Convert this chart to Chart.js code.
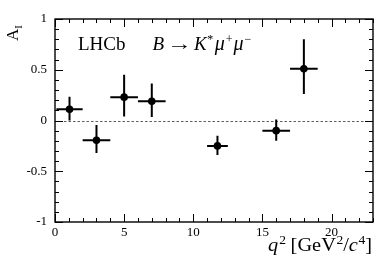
<!DOCTYPE html>
<html><head><meta charset="utf-8">
<script src="https://cdn.jsdelivr.net/npm/chart.js@4"></script>
<style>html,body{margin:0;padding:0;background:#fff}#wrap{width:392px;height:266px;position:relative}</style>
</head><body>
<div id="wrap"><canvas id="c"></canvas></div>
<script>
// ---- data ----
const binCentres = [1.05, 3, 5, 7, 11.75, 16, 18];
const binLow     = [0.1, 2, 4, 6, 11, 15, 17];
const binHigh    = [2, 4, 6, 8, 12.5, 17, 19];
const asymmetry  = [0.11, -0.195, 0.23, 0.19, -0.25, -0.10, 0.51];
const errUp      = [0.125, 0.15, 0.22, 0.175, 0.10, 0.11, 0.29];
const errDown    = [0.11, 0.125, 0.19, 0.155, 0.09, 0.10, 0.25];
const xTickValues = [0, 5, 10, 15, 20];
const xTickLabels = ['0', '5', '10', '15', '20'];
const yTickValues = [-1, -0.5, 0, 0.5, 1];
const yTickLabels = ['-1', '-0.5', '0', '0.5', '1'];

const SERIF = "'Liberation Serif', 'DejaVu Serif', serif";

const rootStyle = {
  id: 'rootStyle',
  beforeDatasetsDraw(chart) {
    const {ctx, chartArea: a, scales: {x, y}} = chart;
    ctx.save();
    ctx.strokeStyle = '#333';
    ctx.lineWidth = 0.8;
    ctx.setLineDash([2.5, 2]);
    const y0 = Math.round(y.getPixelForValue(0)) + 0.5;
    ctx.beginPath(); ctx.moveTo(a.left, y0); ctx.lineTo(a.right, y0); ctx.stroke();
    ctx.setLineDash([]);
    ctx.strokeStyle = '#000';
    ctx.lineWidth = 2;
    for (let i = 0; i < binCentres.length; i++) {
      const px = x.getPixelForValue(binCentres[i]);
      const py = y.getPixelForValue(asymmetry[i]);
      ctx.beginPath();
      ctx.moveTo(x.getPixelForValue(binLow[i]), py);
      ctx.lineTo(x.getPixelForValue(binHigh[i]), py);
      ctx.moveTo(px, y.getPixelForValue(asymmetry[i] + errUp[i]));
      ctx.lineTo(px, y.getPixelForValue(asymmetry[i] - errDown[i]));
      ctx.stroke();
    }
    ctx.restore();
  },
  afterDraw(chart) {
    const {ctx, chartArea: a, scales: {x, y}} = chart;
    ctx.save();
    ctx.strokeStyle = '#000';
    ctx.lineWidth = 1.4;
    ctx.strokeRect(a.left, a.top, a.right - a.left, a.bottom - a.top);
    ctx.lineWidth = 1;
    ctx.beginPath();
    for (let v = 0; v <= 23; v++) {
      const len = v % 5 === 0 ? 8 : 4;
      const px = Math.round(x.getPixelForValue(v)) + 0.5;
      ctx.moveTo(px, a.bottom); ctx.lineTo(px, a.bottom - len);
      ctx.moveTo(px, a.top); ctx.lineTo(px, a.top + len);
    }
    for (let k = -10; k <= 10; k++) {
      const len = k % 5 === 0 ? 8 : 4;
      const py = Math.round(y.getPixelForValue(k / 10)) + 0.5;
      ctx.moveTo(a.left, py); ctx.lineTo(a.left + len, py);
      ctx.moveTo(a.right, py); ctx.lineTo(a.right - len, py);
    }
    ctx.stroke();

    ctx.fillStyle = '#000';
    ctx.textBaseline = 'alphabetic';
    function runs(parts, startX, baseY, scaleAll) {
      const S = scaleAll || 1;
      let cx = startX;
      for (const p of parts) {
        ctx.font = p.f;
        const w = ctx.measureText(p.t).width;
        const sx = (p.w ? p.w / w : 1) * S;
        ctx.save();
        ctx.translate(cx, baseY + (p.dy || 0));
        ctx.scale(sx, 1);
        ctx.fillText(p.t, 0, 0);
        ctx.restore();
        cx += w * sx + (p.gap || 0) * S;
      }
      return cx;
    }
    function width(parts) {
      let w = 0;
      for (const p of parts) { ctx.font = p.f; w += (p.w || ctx.measureText(p.t).width) + (p.gap || 0); }
      return w;
    }
    // x title
    const xt = [
      {t: 'q', f: `italic 18px ${SERIF}`, gap: 1},
      {t: '2', f: `12px ${SERIF}`, dy: -7, gap: 4},
      {t: '[GeV', f: `18px ${SERIF}`, gap: 0.5},
      {t: '2', f: `12px ${SERIF}`, dy: -7},
      {t: '/', f: `18px ${SERIF}`},
      {t: 'c', f: `italic 18px ${SERIF}`, gap: 0.5},
      {t: '4', f: `12px ${SERIF}`, dy: -7},
      {t: ']', f: `18px ${SERIF}`}
    ];
    const xtW = width(xt);
    const xtS = 104 / xtW;
    runs(xt, 372 - 104, 251, xtS);
    // y title
    ctx.save();
    ctx.translate(18, 41);
    ctx.rotate(-Math.PI / 2);
    runs([{t: 'A', f: `17px ${SERIF}`}, {t: 'I', f: `11px ${SERIF}`, dy: 4}], 0, 0);
    ctx.restore();
    // LHCb label
    runs([{t: 'LHCb', f: `19px ${SERIF}`}], 78, 49.5);
    runs([
      {t: 'B', f: `italic 19px ${SERIF}`, gap: 3},
      {t: '\u2192', f: `19px ${SERIF}`, w: 25, gap: 2},
      {t: 'K', f: `italic 19px ${SERIF}`, gap: 0.5},
      {t: '*', f: `12px ${SERIF}`, dy: -7, gap: 1.5},
      {t: '\u03bc', f: `italic 20px ${SERIF}`, gap: 1},
      {t: '+', f: `12px ${SERIF}`, dy: -7, gap: 1},
      {t: '\u03bc', f: `italic 20px ${SERIF}`, gap: 1},
      {t: '\u2212', f: `12px ${SERIF}`, dy: -7}
    ], 152.5, 49.5);
    ctx.restore();
  }
};

new Chart(document.getElementById('c'), {
  type: 'scatter',
  data: {
    datasets: [{
      data: binCentres.map((v, i) => ({x: v, y: asymmetry[i]})),
      pointRadius: 3.8,
      pointHoverRadius: 3.8,
      backgroundColor: '#000',
      borderColor: '#000',
      borderWidth: 0
    }]
  },
  plugins: [rootStyle],
  options: {
    responsive: true,
    maintainAspectRatio: false,
    animation: false,
    events: [],
    layout: {padding: {left: 0, right: 19, top: 19, bottom: 0}},
    plugins: {legend: {display: false}, tooltip: {enabled: false}},
    scales: {
      x: {
        type: 'linear', min: 0, max: 23,
        afterFit: s => { s.height = 44; },
        afterBuildTicks: s => { s.ticks = xTickValues.map(v => ({value: v})); },
        grid: {display: false, drawTicks: false},
        border: {display: false},
        ticks: {
          padding: 3, color: '#000', maxRotation: 0, autoSkip: false,
          font: {family: SERIF, size: 13},
          callback: (v) => xTickLabels[xTickValues.indexOf(v)]
        }
      },
      y: {
        type: 'linear', min: -1, max: 1,
        afterFit: s => { s.width = 55; },
        afterBuildTicks: s => { s.ticks = yTickValues.map(v => ({value: v})); },
        grid: {display: false, drawTicks: false},
        border: {display: false},
        ticks: {
          padding: 8, color: '#000', autoSkip: false,
          font: {family: SERIF, size: 13},
          callback: (v) => yTickLabels[yTickValues.indexOf(v)]
        }
      }
    }
  }
});
</script>
</body></html>
